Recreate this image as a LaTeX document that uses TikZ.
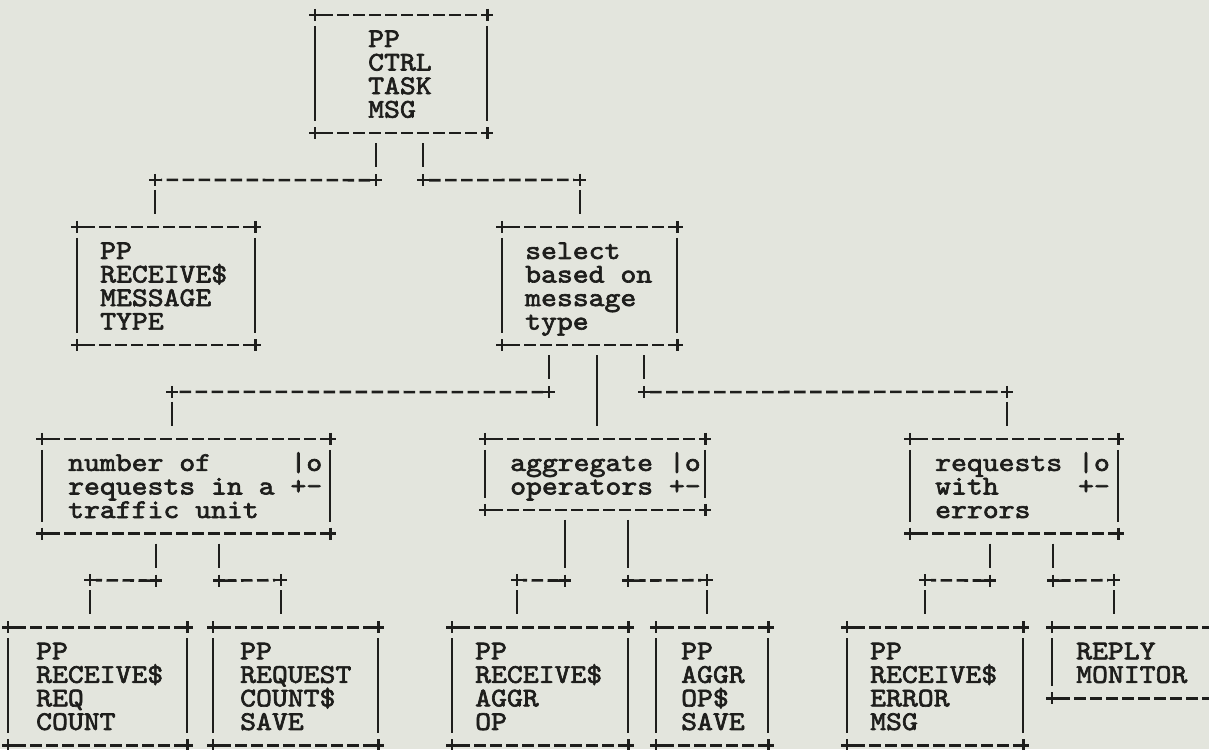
\documentclass[tikz,border=0pt]{standalone}
\usepackage{fontspec}
\newfontfamily\typewriter[Extension=.otf, FakeStretch=1.12, FakeBold=2.4]{lmmono10-regular}
\definecolor{ink}{HTML}{1E1E1C}
\definecolor{paper}{HTML}{E3E5DD}
\tikzset{
  jsdbox/.style={inner sep=0pt, anchor=north west},
  jsdtxt/.style={anchor=base west, inner sep=0pt, align=left, font=\typewriter\fontsize{27pt}{23.55pt}\selectfont},
  hdash/.style={line width=2.6pt, dash pattern=on 11.5pt off 4.5pt, shorten <=6pt, shorten >=6pt},
  vbar/.style={line width=2.1pt},
  plus/.style={line width=2.4pt}
}

\begin{document}
\begin{tikzpicture}[x=1pt, y=-1pt, ink]
\fill[paper] (0,0) rectangle (1209,749);
\useasboundingbox (0,0) rectangle (1209,749);
% frames
\node[jsdbox, minimum width=172pt, minimum height=117.75pt] (ctrl) at (315,15) {};
\node[jsdbox, minimum width=178pt, minimum height=117.75pt] (recv) at (77,226.95) {};
\node[jsdbox, minimum width=175pt, minimum height=117.75pt] (select) at (502,226.95) {};
\node[jsdbox, minimum width=288pt, minimum height=94.2pt] (number) at (42,438.9) {};
\node[jsdbox, minimum width=220pt, minimum height=70.65pt] (aggr) at (485,438.9) {};
\node[jsdbox, minimum width=208pt, minimum height=94.2pt] (errs) at (910,438.9) {};
\node[jsdbox, minimum width=179pt, minimum height=117.75pt] (rcvreq) at (8,627.3) {};
\node[jsdbox, minimum width=165pt, minimum height=117.75pt] (reqsave) at (213,627.3) {};
\node[jsdbox, minimum width=176pt, minimum height=117.75pt] (rcvaggr) at (452,627.3) {};
\node[jsdbox, minimum width=112pt, minimum height=117.75pt] (opsave) at (656,627.3) {};
\node[jsdbox, minimum width=176pt, minimum height=117.75pt] (rcverr) at (847,627.3) {};
\node[jsdbox, minimum width=160pt, minimum height=70.65pt] (reply) at (1052,627.3) {};
\foreach \b in {ctrl,recv,select,number,aggr,errs,rcvreq,reqsave,rcvaggr,opsave,rcverr,reply}{
  \draw[hdash] (\b.north west) -- (\b.north east);
  \draw[hdash] (\b.south west) -- (\b.south east);
  \draw[vbar] ([yshift=-11pt]\b.north west) -- ([yshift=12pt]\b.south west);
  \draw[vbar] ([yshift=-11pt]\b.north east) -- ([yshift=12pt]\b.south east);
  \foreach \c in {north west,north east,south west,south east}
    \draw[plus] (\b.\c) +(-6,0) -- +(6,0) +(0,-6) -- +(0,6);
}
% texts (base = last line)
\node[jsdtxt] (ctrl-t) at ([shift={(53,32+3*23.55)}]ctrl.north west) {PP\\CTRL\\TASK\\MSG};
\node[jsdtxt] (recv-t) at ([shift={(23,32+3*23.55)}]recv.north west) {PP\\RECEIVE\$\\MESSAGE\\TYPE};
\node[jsdtxt] (select-t) at ([shift={(23,32+3*23.55)}]select.north west) {select\\based on\\message\\type};
\node[jsdtxt] (number-t) at ([shift={(26,32+2*23.55)}]number.north west) {number of~~~~~|o\\requests in a +-\\traffic unit};
\node[jsdtxt] (aggr-t) at ([shift={(25,32+23.55)}]aggr.north west) {aggregate |o\\operators +-};
\node[jsdtxt] (errs-t) at ([shift={(25,32+2*23.55)}]errs.north west) {requests |o\\with~~~~~+-\\errors};
\node[jsdtxt] (rcvreq-t) at ([shift={(28,32+3*23.55)}]rcvreq.north west) {PP\\RECEIVE\$\\REQ\\COUNT};
\node[jsdtxt] (reqsave-t) at ([shift={(27,32+3*23.55)}]reqsave.north west) {PP\\REQUEST\\COUNT\$\\SAVE};
\node[jsdtxt] (rcvaggr-t) at ([shift={(23,32+3*23.55)}]rcvaggr.north west) {PP\\RECEIVE\$\\AGGR\\OP};
\node[jsdtxt] (opsave-t) at ([shift={(25,32+3*23.55)}]opsave.north west) {PP\\AGGR\\OP\$\\SAVE};
\node[jsdtxt] (rcverr-t) at ([shift={(23,32+3*23.55)}]rcverr.north west) {PP\\RECEIVE\$\\ERROR\\MSG};
\node[jsdtxt] (reply-t) at ([shift={(24,32+23.55)}]reply.north west) {REPLY\\MONITOR};
% connectors
\foreach \up/\ux/\k/\lo/\lx in {ctrl/61/2/recv/78, ctrl/108/2/select/78, select/47/2/number/130, select/142/2/errs/97, number/114/2/rcvreq/82, number/177/2/reqsave/68, aggr/80/3/rcvaggr/65, aggr/143/3/opsave/51, errs/80/2/rcverr/78, errs/143/2/reply/62}{
  \draw[vbar] ([shift={(\ux,10)}]\up.south west) -- ([shift={(\ux,\k*23.55-13)}]\up.south west);
  \draw[hdash] ([shift={(\ux,\k*23.55)}]\up.south west) -- ([shift={(\lx,-47.1)}]\lo.north west);
  \draw[vbar] ([shift={(\lx,-37)}]\lo.north west) -- ([shift={(\lx,-13)}]\lo.north west);
  \draw[plus] ([shift={(\ux,\k*23.55)}]\up.south west) +(-6,0) -- +(6,0) +(0,-6) -- +(0,6);
  \draw[plus] ([shift={(\lx,-47.1)}]\lo.north west) +(-6,0) -- +(6,0) +(0,-6) -- +(0,6);
}
\draw[vbar] ([shift={(95,10)}]select.south west) -- ([shift={(112,-13)}]aggr.north west);
\end{tikzpicture}
\end{document}
